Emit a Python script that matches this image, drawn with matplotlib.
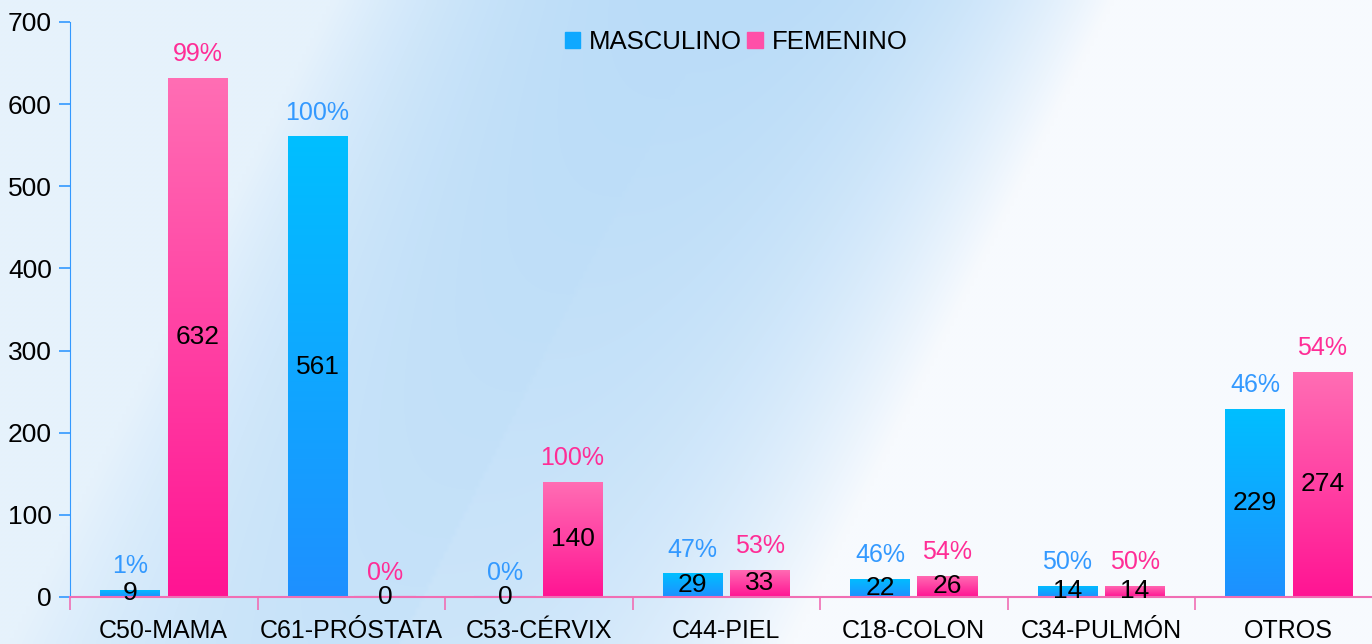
import numpy as np
import matplotlib
matplotlib.use("Agg")
import matplotlib.pyplot as plt
from matplotlib.colors import LinearSegmentedColormap
from matplotlib.patches import Patch

plt.rcParams['font.family'] = ['Liberation Sans', 'DejaVu Sans']

# data
categories = ["C50-MAMA", "C61-PRÓSTATA", "C53-CÉRVIX", "C44-PIEL",
              "C18-COLON", "C34-PULMÓN", "OTROS"]
masculino = [9, 561, 0, 29, 22, 14, 229]
femenino = [632, 0, 140, 33, 26, 14, 274]
pct_masc = [1, 100, 0, 47, 46, 50, 46]
pct_fem = [99, 0, 100, 53, 54, 50, 54]
y_ticks = [0, 100, 200, 300, 400, 500, 600, 700]

W, H = 1372, 644
fig = plt.figure(figsize=(W / 100, H / 100), dpi=100)

# soft blue background (decoration only)
bg_ax = fig.add_axes([0, 0, 1, 1], zorder=-10)
gy, gx = np.mgrid[0:H:4, 0:W:4].astype(float)
center = 720 - 0.5 * gy
t = (gx - center) / 390.0
band = np.clip(1 - np.abs(t) ** 2.5, 0, 1) * (1 - 0.3 * gy / H)
light_l = np.array([230, 242, 252]) / 255
light_r = np.array([247, 250, 254]) / 255
blue = np.array([186, 220, 248]) / 255
light = np.where((t < 0)[..., None], light_l, light_r)
img = light + band[..., None] * (blue - light)
bg_ax.imshow(img, extent=[0, 1, 0, 1], aspect='auto', interpolation='bilinear')
bg_ax.axis('off')

ax = fig.add_axes([70 / W, 47 / H, 1312.5 / W, 575 / H])
ax.set_facecolor('none')

x = np.arange(len(categories))
bw = 0.32
off = 0.18
bars_m = ax.bar(x - off, masculino, bw, color='none', zorder=2)
bars_f = ax.bar(x + off, femenino, bw, color='none', zorder=2)

cm_blue = LinearSegmentedColormap.from_list('b', ['#1E90FF', '#00BFFF'])
cm_pink = LinearSegmentedColormap.from_list('p', ['#FF1493', '#FF6EB4'])
grad = np.linspace(0, 1, 256).reshape(-1, 1)
for bars, cmap in [(bars_m, cm_blue), (bars_f, cm_pink)]:
    for rect in bars:
        h = rect.get_height()
        x0 = rect.get_x()
        if h <= 0:
            # zero bar shows as a thin line on the axis
            ax.plot([x0, x0 + rect.get_width()], [0, 0], color=cmap(0.0), lw=1.5, zorder=3)
            continue
        im = ax.imshow(grad, extent=[x0, x0 + rect.get_width(), 0, h],
                       origin='lower', aspect='auto', cmap=cmap, zorder=2)
        im.set_clip_path(rect)

# value labels inside bars, percentages above
for i in range(len(categories)):
    for xpos, v, p, col in [(x[i] - off, masculino[i], pct_masc[i], '#3399FF'),
                            (x[i] + off, femenino[i], pct_fem[i], '#FF2D96')]:
        ax.text(xpos, v / 2, str(v), ha='center', va='center',
                fontsize=19, color='black', zorder=4)
        ax.annotate(f"{p}%", (xpos, v), xytext=(0, 17), textcoords='offset points',
                    ha='center', va='center', fontsize=18, color=col, zorder=4)

ax.set_xlim(-0.5, len(categories) - 0.5)
ax.set_ylim(0, 700)
ax.set_yticks(y_ticks)
ax.set_xticks(x)
ax.set_xticklabels(categories, fontsize=18)
ax.set_xticks(np.arange(len(categories)) - 0.5, minor=True)
ax.tick_params(axis='x', which='major', length=0, pad=16)
ax.tick_params(axis='x', which='minor', length=9, color='#F06EB4', width=1.2)
ax.tick_params(axis='y', length=8, color='#3399FF', width=1.2, labelsize=19, pad=5)

for s in ['top', 'right']:
    ax.spines[s].set_visible(False)
ax.spines['left'].set_color('#3399FF')
ax.spines['bottom'].set_color('#F06EB4')
ax.spines['bottom'].set_linewidth(1.5)
ax.spines['bottom'].set_zorder(3)

handles = [Patch(color='#0FA8FF'), Patch(color='#FF4FA8')]
fig.legend(handles, ['MASCULINO', 'FEMENINO'], loc='center',
           bbox_to_anchor=(736 / W, 1 - 42 / H), ncol=2, frameon=False,
           fontsize=18.5, handlelength=0.6, handleheight=0.6,
           handletextpad=0.35, columnspacing=0.2)

fig.savefig('out.png', dpi=100)
